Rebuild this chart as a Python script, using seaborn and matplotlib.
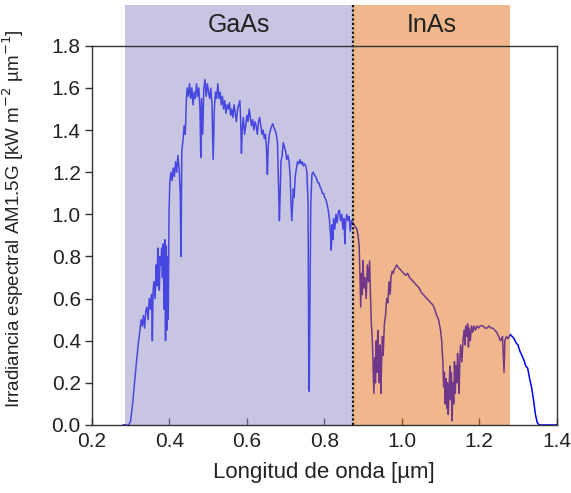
import matplotlib
matplotlib.use("Agg")
import matplotlib.pyplot as plt
import seaborn as sns
import pandas as pd

# AM1.5G spectral irradiance (wavelength in µm, irradiance in kW m^-2 µm^-1)
wavelength = [
    0.280, 0.295, 0.300, 0.305, 0.310, 0.315, 0.320, 0.324, 0.327, 0.330,
    0.333, 0.336, 0.339, 0.342, 0.345, 0.348, 0.351, 0.354, 0.356, 0.358,
    0.360, 0.363, 0.366, 0.368, 0.370, 0.372, 0.374, 0.376, 0.378, 0.380,
    0.382, 0.384, 0.386, 0.388, 0.390, 0.392, 0.393, 0.395, 0.397, 0.399,
    0.401, 0.404, 0.407, 0.410, 0.413, 0.416, 0.419, 0.422, 0.425, 0.428,
    0.430, 0.432, 0.435, 0.438, 0.441, 0.444, 0.446, 0.449, 0.452, 0.455,
    0.458, 0.461, 0.464, 0.467, 0.470, 0.473, 0.476, 0.479, 0.481, 0.483,
    0.486, 0.489, 0.492, 0.495, 0.498, 0.501, 0.504, 0.507, 0.510, 0.513,
    0.516, 0.519, 0.522, 0.525, 0.528, 0.531, 0.534, 0.537, 0.540, 0.543,
    0.546, 0.549, 0.552, 0.555, 0.558, 0.561, 0.564, 0.567, 0.570, 0.573,
    0.576, 0.579, 0.582, 0.584, 0.586, 0.588, 0.591, 0.594, 0.597, 0.600,
    0.603, 0.606, 0.609, 0.612, 0.615, 0.618, 0.621, 0.624, 0.627, 0.630,
    0.633, 0.636, 0.639, 0.642, 0.645, 0.648, 0.651, 0.653, 0.655, 0.658,
    0.661, 0.664, 0.667, 0.670, 0.673, 0.676, 0.679, 0.681, 0.684, 0.686,
    0.688, 0.691, 0.694, 0.697, 0.700, 0.703, 0.706, 0.709, 0.712, 0.714,
    0.716, 0.718, 0.720, 0.722, 0.725, 0.728, 0.731, 0.734, 0.737, 0.740,
    0.743, 0.746, 0.749, 0.752, 0.755, 0.758, 0.760, 0.761, 0.763, 0.765,
    0.768, 0.771, 0.774, 0.777, 0.780, 0.783, 0.786, 0.789, 0.792, 0.795,
    0.798, 0.801, 0.804, 0.807, 0.810, 0.813, 0.816, 0.818, 0.820, 0.822,
    0.824, 0.827, 0.830, 0.833, 0.836, 0.839, 0.842, 0.845, 0.848, 0.851,
    0.853, 0.855, 0.858, 0.861, 0.864, 0.867, 0.870, 0.873, 0.877, 0.880,
    0.884, 0.887, 0.890, 0.892, 0.894, 0.896, 0.898, 0.900, 0.902, 0.905,
    0.908, 0.911, 0.914, 0.917, 0.919, 0.921, 0.924, 0.926, 0.928, 0.930,
    0.932, 0.934, 0.936, 0.938, 0.940, 0.942, 0.944, 0.946, 0.948, 0.950,
    0.952, 0.955, 0.958, 0.961, 0.964, 0.967, 0.970, 0.972, 0.975, 0.978,
    0.981, 0.984, 0.987, 0.990, 0.995, 1.000, 1.005, 1.010, 1.015, 1.020,
    1.025, 1.030, 1.035, 1.040, 1.045, 1.050, 1.055, 1.060, 1.065, 1.070,
    1.075, 1.080, 1.085, 1.090, 1.095, 1.100, 1.103, 1.106, 1.108, 1.110,
    1.112, 1.114, 1.116, 1.118, 1.120, 1.122, 1.124, 1.126, 1.128, 1.130,
    1.132, 1.134, 1.136, 1.138, 1.140, 1.142, 1.144, 1.146, 1.148, 1.150,
    1.152, 1.155, 1.158, 1.161, 1.163, 1.165, 1.168, 1.170, 1.172, 1.174,
    1.177, 1.180, 1.183, 1.186, 1.190, 1.194, 1.198, 1.202, 1.206, 1.210,
    1.215, 1.220, 1.225, 1.230, 1.235, 1.240, 1.245, 1.250, 1.255, 1.260,
    1.264, 1.266, 1.270, 1.275, 1.280, 1.285, 1.290, 1.295, 1.300, 1.305,
    1.310, 1.315, 1.320, 1.325, 1.330, 1.335, 1.340, 1.345, 1.350, 1.355,
    1.400,
]
irradiance = [
    0.00, 0.00, 0.02, 0.10, 0.20, 0.30, 0.39, 0.45, 0.50, 0.47,
    0.52, 0.46, 0.54, 0.56, 0.50, 0.60, 0.55, 0.62, 0.40, 0.64,
    0.68, 0.60, 0.76, 0.66, 0.84, 0.70, 0.64, 0.80, 0.76, 0.84,
    0.70, 0.86, 0.55, 0.88, 0.40, 0.85, 0.45, 0.80, 0.50, 1.00,
    1.15, 1.20, 1.16, 1.22, 1.18, 1.25, 1.20, 1.28, 1.22, 1.10,
    0.80, 1.30, 1.35, 1.42, 1.38, 1.55, 1.60, 1.56, 1.62, 1.55,
    1.60, 1.52, 1.58, 1.55, 1.62, 1.56, 1.60, 1.50, 1.27, 1.55,
    1.38, 1.60, 1.64, 1.56, 1.62, 1.58, 1.55, 1.60, 1.52, 1.26,
    1.50, 1.58, 1.55, 1.62, 1.55, 1.58, 1.52, 1.56, 1.50, 1.54,
    1.48, 1.52, 1.50, 1.53, 1.47, 1.50, 1.46, 1.52, 1.48, 1.44,
    1.50, 1.52, 1.54, 1.45, 1.29, 1.40, 1.46, 1.38, 1.42, 1.47,
    1.44, 1.50, 1.46, 1.42, 1.45, 1.40, 1.44, 1.42, 1.38, 1.44,
    1.46, 1.42, 1.38, 1.40, 1.36, 1.38, 1.30, 1.19, 1.32, 1.38,
    1.40, 1.42, 1.43, 1.41, 1.40, 1.38, 1.34, 1.20, 0.97, 1.10,
    1.25, 1.28, 1.34, 1.32, 1.30, 1.26, 1.28, 1.25, 1.18, 1.05,
    0.97, 1.05, 1.12, 1.08, 1.18, 1.22, 1.25, 1.24, 1.26, 1.24,
    1.25, 1.23, 1.24, 1.23, 1.20, 1.05, 0.20, 0.16, 0.60, 1.05,
    1.19, 1.20, 1.19, 1.18, 1.17, 1.15, 1.15, 1.13, 1.12, 1.10,
    1.10, 1.08, 1.07, 1.05, 1.02, 0.98, 0.90, 0.83, 0.95, 0.88,
    0.98, 0.93, 1.00, 0.96, 1.01, 1.02, 0.97, 1.00, 0.93, 0.98,
    0.86, 0.96, 1.00, 0.97, 0.99, 0.92, 0.97, 0.96, 0.95, 0.94,
    0.93, 0.90, 0.85, 0.70, 0.56, 0.72, 0.62, 0.78, 0.65, 0.70,
    0.60, 0.76, 0.68, 0.78, 0.62, 0.50, 0.40, 0.28, 0.15, 0.32,
    0.20, 0.40, 0.25, 0.45, 0.30, 0.20, 0.38, 0.15, 0.30, 0.42,
    0.33, 0.48, 0.52, 0.60, 0.58, 0.68, 0.62, 0.70, 0.73, 0.72,
    0.74, 0.75, 0.76, 0.75, 0.74, 0.73, 0.72, 0.71, 0.72, 0.70,
    0.69, 0.68, 0.67, 0.66, 0.65, 0.63, 0.62, 0.61, 0.60, 0.59,
    0.58, 0.57, 0.55, 0.52, 0.50, 0.45, 0.40, 0.30, 0.18, 0.25,
    0.10, 0.22, 0.08, 0.20, 0.05, 0.15, 0.28, 0.12, 0.25, 0.02,
    0.20, 0.10, 0.30, 0.15, 0.28, 0.20, 0.34, 0.26, 0.15, 0.32,
    0.38, 0.30, 0.40, 0.45, 0.38, 0.47, 0.42, 0.48, 0.37, 0.46,
    0.40, 0.47, 0.44, 0.47, 0.45, 0.47, 0.46, 0.47, 0.47, 0.47,
    0.46, 0.46, 0.47, 0.46, 0.46, 0.45, 0.44, 0.42, 0.40, 0.42,
    0.25, 0.40, 0.42, 0.41, 0.43, 0.42, 0.41, 0.39, 0.38, 0.35,
    0.33, 0.31, 0.28, 0.27, 0.22, 0.18, 0.12, 0.05, 0.01, 0.00,
    0.00,
]

# Absorption ranges of the two cells (µm)
band_names = ["GaAs", "InAs"]
band_start = [0.285, 0.873]
band_end = [0.873, 1.280]
band_colors = ["#908dc4", "#e17119"]

x_ticks = [0.2, 0.4, 0.6, 0.8, 1.0, 1.2, 1.4]
y_ticks = [0.0, 0.2, 0.4, 0.6, 0.8, 1.0, 1.2, 1.4, 1.6, 1.8]

sns.set_theme(style="white")
plt.rcParams["font.family"] = ["Liberation Sans", "DejaVu Sans"]
text_color = "#222222"

fig = plt.figure(figsize=(5.71, 4.93), dpi=100)
ax = fig.add_axes([0.161, 0.138, 0.814, 0.769])

df = pd.DataFrame({"wl": wavelength, "irr": irradiance})
sns.lineplot(data=df, x="wl", y="irr", sort=False, estimator=None,
             color="#0000ff", linewidth=1.1, ax=ax, zorder=2)

ax.set_xlim(0.2, 1.4)
ax.set_ylim(0.0, 1.8)

# Semi-transparent bands over the spectrum, reaching above the frame
top_frac = 1.108
for name, x0, x1, c in zip(band_names, band_start, band_end, band_colors):
    ax.axvspan(x0, x1, ymin=0, ymax=top_frac, color=c, alpha=0.5,
               lw=0, zorder=3, clip_on=False)
    ax.text((x0 + x1) / 2, 1.8 * 1.055, name, ha="center", va="center",
            fontsize=18, color=text_color)

ax.plot([band_end[0], band_end[0]], [0, 1.8 * top_frac], ls=(0, (1, 1)),
        color="#111111", lw=1.6, zorder=4, clip_on=False)

for s in ax.spines.values():
    s.set_color("#333333")
    s.set_linewidth(1.0)
    s.set_zorder(5)

ax.set_xticks(x_ticks)
ax.set_yticks(y_ticks)
ax.set_xticklabels([f"{v:.1f}" for v in x_ticks])
ax.set_yticklabels([f"{v:.1f}" for v in y_ticks])
ax.tick_params(axis="x", direction="in", length=5, width=1, colors="#333333",
               labelcolor=text_color, labelsize=15, pad=5)
ax.tick_params(axis="y", direction="out", length=5, width=1, colors="#333333",
               labelcolor=text_color, labelsize=15, pad=3)
ax.tick_params(bottom=True, left=True, top=False, right=False)

ax.set_xlabel("Longitud de onda [µm]", fontsize=16, color=text_color, labelpad=8)
ax.set_ylabel("Irradiancia espectral AM1.5G [kW m$^{-2}$ µm$^{-1}$]",
              fontsize=13.5, color=text_color)
ax.yaxis.set_label_coords(-0.142, 0.545)

fig.savefig("out.png", dpi=100)
